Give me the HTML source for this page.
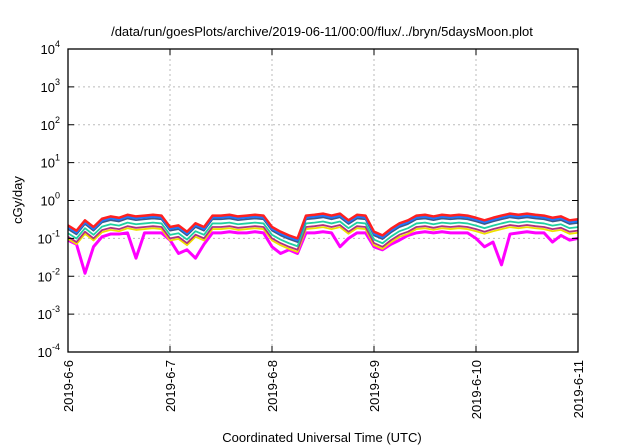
<!DOCTYPE html>
<html><head><meta charset="utf-8"><style>
body{margin:0;background:#fff;}
svg{display:block;font-family:"Liberation Sans",sans-serif;}
</style></head><body>
<svg id="chart" width="640" height="448" viewBox="0 0 640 448">
<text x="322" y="36" font-size="13" text-anchor="middle">/data/run/goesPlots/archive/2019-06-11/00:00/flux/../bryn/5daysMoon.plot</text>
<text x="322" y="442" font-size="13" text-anchor="middle">Coordinated Universal Time (UTC)</text>
<text x="0" y="0" font-size="13" text-anchor="middle" transform="translate(22,200) rotate(-90)">cGy/day</text>
<g id="grid"></g><g id="series"></g><g id="axes"></g>
</svg>
<script>
const xTickLabels=["2019-6-6","2019-6-7","2019-6-8","2019-6-9","2019-6-10","2019-6-11"];
const yTickExps=[-4,-3,-2,-1,0,1,2,3,4];
// 2-hour samples, days since 2019-6-6
const redVals=[0.22,0.16,0.3,0.2,0.33,0.38,0.35,0.42,0.38,0.4,0.42,0.4,
0.2,0.22,0.15,0.25,0.2,0.4,0.4,0.42,0.38,0.4,0.42,0.4,
0.2,0.15,0.12,0.1,0.4,0.42,0.45,0.4,0.45,0.3,0.42,0.4,
0.15,0.12,0.18,0.25,0.3,0.4,0.42,0.38,0.42,0.4,0.42,0.4,
0.35,0.3,0.35,0.4,0.45,0.42,0.45,0.42,0.4,0.35,0.38,0.3,0.32];
const magentaVals=[0.09,0.07,0.012,0.06,0.11,0.13,0.13,0.14,0.03,0.14,0.14,0.14,
0.09,0.04,0.05,0.03,0.07,0.14,0.14,0.15,0.14,0.14,0.15,0.14,
0.06,0.04,0.05,0.04,0.14,0.14,0.15,0.14,0.06,0.1,0.14,0.14,
0.06,0.05,0.07,0.09,0.12,0.14,0.15,0.14,0.15,0.14,0.14,0.14,
0.1,0.06,0.08,0.02,0.13,0.14,0.15,0.14,0.14,0.08,0.12,0.09,0.1];
const seriesColors=["#ff2020","#1e78ff","#3a5a8c","#20d0a0","#b03080","#f0e000"];
const seriesFactors=[1.0,0.9,0.8,0.62,0.5,0.44];
const NS="http://www.w3.org/2000/svg";
const L=68,R=578,T=49,B=352;
const xs=d=>L+(R-L)*d/5;
const ys=v=>B-(Math.log10(v)+4)*(B-T)/8;
function mk(t,a,p){const e=document.createElementNS(NS,t);for(const k in a)e.setAttribute(k,a[k]);p.appendChild(e);return e;}
const grid=document.getElementById('grid'),ax=document.getElementById('axes'),sg=document.getElementById('series');
yTickExps.forEach((e,i)=>{const y=ys(Math.pow(10,e));
 if(i>0&&i<yTickExps.length-1){const g=mk('line',{x1:L,x2:R,y1:y,y2:y,stroke:'#bbb','stroke-dasharray':'2,3'},grid);
 
 }
 mk('line',{x1:L,x2:L+6,y1:y,y2:y,stroke:'#000'},ax);mk('line',{x1:R,x2:R-6,y1:y,y2:y,stroke:'#000'},ax);
 const t=mk('text',{x:L-8,y:y+5,'font-size':13,'text-anchor':'end'},ax);
 
 
 t.textContent='10';const s=mk('tspan',{dy:-7,'font-size':9},t);s.textContent=e;});
xTickLabels.forEach((lab,i)=>{const x=xs(i);
 if(i>0&&i<5){const g=mk('line',{x1:x,x2:x,y1:T,y2:B,stroke:'#bbb','stroke-dasharray':'2,3'},grid);
 
 }
 mk('line',{x1:x,x2:x,y1:B,y2:B-6,stroke:'#000'},ax);mk('line',{x1:x,x2:x,y1:T,y2:T+6,stroke:'#000'},ax);
 const t=mk('text',{x:0,y:0,'font-size':13,'text-anchor':'end',transform:`translate(${x+5},${B+8}) rotate(-90)`},ax);
 
 
 t.textContent=lab;});
const fr=mk('rect',{x:L,y:T,width:R-L,height:B-T,fill:'none',stroke:'#000','stroke-width':1.3},ax);


const n=redVals.length;const dx=i=>xs(i*5/(n-1));
const mp=magentaVals.map((v,i)=>dx(i)+','+ys(v)).join(' ');
const mline=mk('polyline',{points:mp,fill:'none',stroke:'#ff00ff','stroke-width':3,'stroke-linejoin':'round'},sg);


for(let k=seriesFactors.length-1;k>=0;k--){
 const p=redVals.map((v,i)=>dx(i)+','+ys(v*seriesFactors[k])).join(' ');
 const pl=mk('polyline',{points:p,fill:'none',stroke:seriesColors[k],'stroke-width':k<2?2.5:1.8,'stroke-linejoin':'round'},sg);
 
 
}
</script>
</body></html>
